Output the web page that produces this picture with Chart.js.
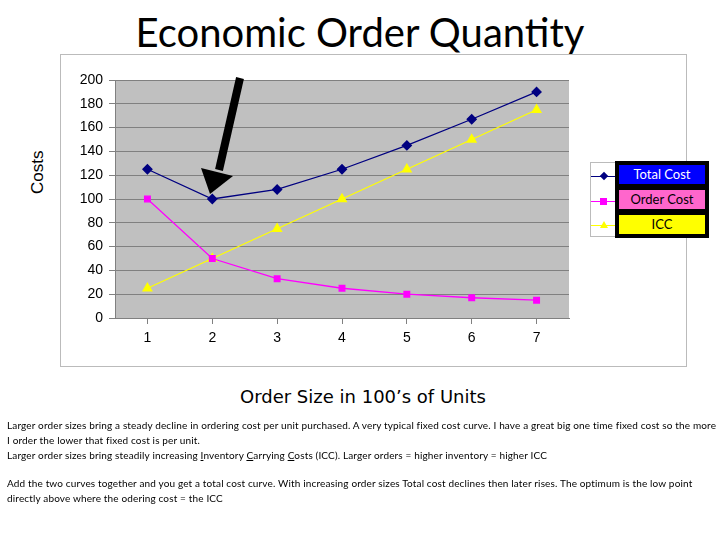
<!DOCTYPE html>
<html>
<head>
<meta charset="utf-8">
<script src="https://cdn.jsdelivr.net/npm/chart.js@4/dist/chart.umd.min.js"></script>
<style>
  body { margin: 0; width: 720px; height: 540px; background: #fff; position: relative; overflow: hidden; }
  #title { position: absolute; left: 0; width: 720px; top: 8px; text-align: center; font: 40px Lato, sans-serif; color: #000; }
  #frame { position: absolute; left: 60px; top: 54px; width: 627px; height: 313px; border: 1px solid #bbb; box-sizing: border-box; }
  #costs { position: absolute; left: 28px; top: 194px; transform: rotate(-90deg); transform-origin: left top; font: 17px "Liberation Sans", Arial, sans-serif; }
  #xtitle { position: absolute; left: 240px; top: 386px; font: 18px "DejaVu Sans", sans-serif; }
  #legend { position: absolute; left: 590px; top: 162px; width: 118px; height: 75px; border: 1px solid #bbb; box-sizing: border-box; background: #fff; }
  #lbox { position: absolute; left: 615px; top: 161px; width: 94px; height: 77px; background: #000; }
  .lab { position: absolute; left: 4px; width: 86px; height: 19px; text-align: center; font: 13px Lato, sans-serif; line-height: 19px; }
  .line { position: absolute; left: 0; width: 26px; height: 1px; }
  .mk { position: absolute; left: 9px; width: 7px; height: 7px; }
  #notes { position: absolute; left: 7px; top: 418px; width: 710px; font: 10px Lato, sans-serif; letter-spacing: 0.15px; line-height: 15px; color: #000; }
  #notes p { margin: 0 0 13px 0; }
</style>
</head>
<body>
<div id="title">Economic Order Quantity</div>
<div id="frame"><canvas id="eoq" width="625" height="311"></canvas></div>
<div id="costs">Costs</div>
<div id="legend">
  <div class="line" style="top:13px;background:#000080"></div>
  <div class="mk" style="top:10px;left:10px;width:6px;height:6px;background:#000080;transform:rotate(45deg)"></div>
  <div class="line" style="top:38px;background:#ff00ff"></div>
  <div class="mk" style="top:35px;background:#ff00ff"></div>
  <div class="line" style="top:62px;background:#ffff00"></div>
  <div class="mk" style="top:58px;width:0;height:0;border-left:4px solid transparent;border-right:4px solid transparent;border-bottom:7px solid #ffff00"></div>
</div>
<div id="lbox">
  <div class="lab" style="top:4px;background:#0000ff;color:#fff">Total Cost</div>
  <div class="lab" style="top:29px;background:#ff66cc;color:#000">Order Cost</div>
  <div class="lab" style="top:54px;background:#ffff00;color:#000">ICC</div>
</div>
<div id="xtitle">Order Size in 100’s of Units</div>
<svg style="position:absolute;left:0;top:0" width="720" height="540">
  <line x1="240" y1="78" x2="219" y2="170" stroke="#000" stroke-width="8"/>
  <polygon points="201,168 233,176 210,194" fill="#000"/>
</svg>
<div id="notes">
  <p>Larger order sizes bring a steady decline in ordering cost per unit purchased. A very typical fixed cost curve. I have a great big one time fixed cost so the more I order the lower that fixed cost is per unit.<br>Larger order sizes bring steadily increasing <u>I</u>nventory <u>C</u>arrying <u>C</u>osts (ICC). Larger orders = higher inventory = higher ICC</p>
  <p>Add the two curves together and you get a total cost curve. With increasing order sizes Total cost declines then later rises. The optimum is the low point directly above where the odering cost = the ICC</p>
</div>
<script>
// order size in hundreds
let orderSizes = ["1", "2", "3", "4", "5", "6", "7"];
let totalCost = [125, 100, 108, 125, 145, 167, 190];
let orderCost = [100, 50, 33, 25, 20, 17, 15];
let iccCost = [25, 50, 75, 100, 125, 150, 175];

// grey plot area like the old spreadsheet chart
const plotBg = {
  id: "plotBg",
  beforeDraw(chart) {
    let a = chart.chartArea;
    let c = chart.ctx;
    c.save();
    c.fillStyle = "#c0c0c0";
    c.fillRect(a.left, a.top, a.right - a.left, a.bottom - a.top);
    c.restore();
  }
};

new Chart(document.getElementById("eoq").getContext("2d"), {
  type: "line",
  data: {
    labels: orderSizes,
    datasets: [
      { label: "Total Cost", data: totalCost, borderColor: "#000080", backgroundColor: "#000080",
        pointStyle: "rectRot", pointRadius: 4.5, borderWidth: 1.3 },
      { label: "Order Cost", data: orderCost, borderColor: "#ff00ff", backgroundColor: "#ff00ff",
        pointStyle: "rect", pointRadius: 4, borderWidth: 1.3 },
      { label: "ICC", data: iccCost, borderColor: "#ffff00", backgroundColor: "#ffff00",
        pointStyle: "triangle", pointRadius: 5, borderWidth: 1.3 }
    ]
  },
  options: {
    responsive: false,
    animation: false,
    layout: { padding: { left: 0, right: 117, top: 25, bottom: 8 } },
    plugins: { legend: { display: false }, tooltip: { enabled: false } },
    scales: {
      x: {
        offset: true,
        grid: { drawOnChartArea: false, color: "#808080", tickLength: 6 },
        border: { color: "#808080" },
        ticks: { color: "#000", font: { family: "Liberation Sans", size: 14 }, padding: 6 },
        afterFit(s) { s.height = 40; }
      },
      y: {
        min: 0, max: 200,
        ticks: { stepSize: 20, color: "#000", font: { family: "Liberation Sans", size: 14 }, padding: 6 },
        grid: { color: "#808080", tickLength: 6 },
        border: { color: "#808080" },
        afterFit(s) { s.width = 54; }
      }
    }
  },
  plugins: [plotBg]
});
</script>
</body>
</html>
